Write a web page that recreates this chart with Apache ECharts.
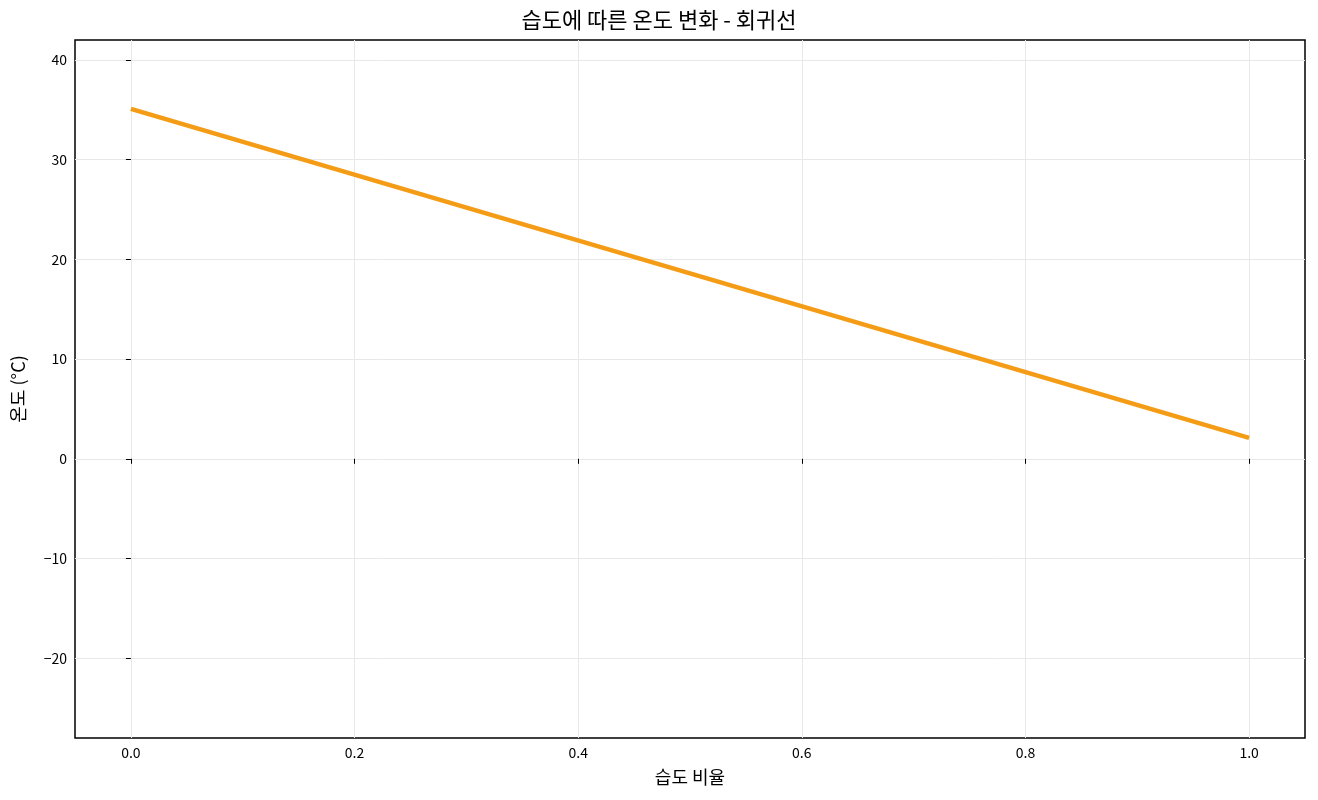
<!DOCTYPE html>
<html><head><meta charset="utf-8">
<script src="https://cdn.jsdelivr.net/npm/echarts@6/dist/echarts.min.js"></script>
<style>html,body{margin:0;background:#fff}#c{width:1318px;height:800px}</style>
</head><body><div id="c"></div>
<script>
const humidity = [0.0, 1.0];
const temperature = [35.1, 2.1];
const xTicks = [0, 0.2, 0.4, 0.6, 0.8, 1.0];
const yTicks = [-20, -10, 0, 10, 20, 30, 40];
const font = '"Noto Sans CJK KR", "DejaVu Sans", sans-serif';
const chart = echarts.init(document.getElementById('c'));
chart.setOption({
  animation: false,
  title: {text: '습도에 따른 온도 변화 - 회귀선', left: 'center', top: 4,
    textStyle: {fontFamily: font, fontSize: 22, fontWeight: 'normal', color: '#000'}},
  grid: {left: 75, right: 13, top: 40, bottom: 62, show: true, borderColor: '#000', borderWidth: 1.5},
  xAxis: {type: 'value', min: -0.05, max: 1.05, name: '습도 비율', nameLocation: 'middle', nameGap: 30,
    nameTextStyle: {fontFamily: font, fontSize: 18, color: '#000'},
    axisLine: {show: false},
    axisTick: {show: true, customValues: xTicks, length: 5, lineStyle: {color: '#000'}},
    axisLabel: {customValues: xTicks, formatter: v => v.toFixed(1), fontFamily: font, fontSize: 14, color: '#000'},
    splitLine: {show: true, lineStyle: {color: '#e8e8e8'}}},
  yAxis: {type: 'value', min: -28, max: 42, name: '온도 (°C)', nameLocation: 'middle', nameGap: 48,
    nameTextStyle: {fontFamily: font, fontSize: 18, color: '#000'},
    axisLine: {show: false},
    axisTick: {show: true, customValues: yTicks, length: 5, lineStyle: {color: '#000'}},
    axisLabel: {customValues: yTicks, formatter: v => String(v).replace('-', '\u2212'), fontFamily: font, fontSize: 14, color: '#000'},
    splitLine: {show: true, lineStyle: {color: '#e8e8e8'}}},
  series: [{type: 'line', data: humidity.map((h, i) => [h, temperature[i]]), showSymbol: false,
    lineStyle: {color: '#f59c16', width: 4.5}}]
});
</script></body></html>
